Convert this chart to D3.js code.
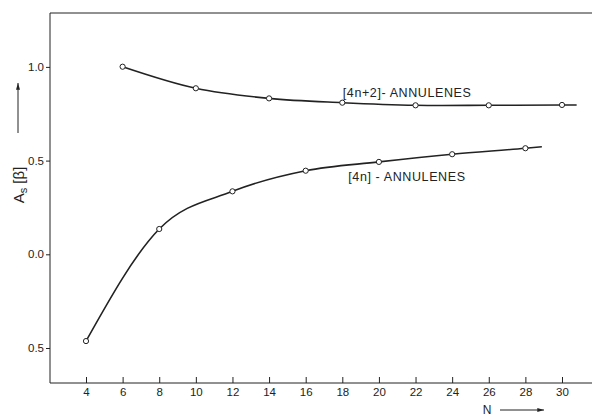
<!DOCTYPE html>
<html><head><meta charset="utf-8">
<script src="https://cdn.jsdelivr.net/npm/d3@7"></script>
<style>body{margin:0;background:#fff}svg{display:block}text{font-family:"Liberation Sans",Arial,sans-serif;fill:#222}</style>
</head><body><svg id="c" width="592" height="416"></svg>
<script>
const nValues4n2 = [6, 10, 14, 18, 22, 26, 30];
const as4n2 = [1.001, 0.886, 0.832, 0.809, 0.795, 0.795, 0.797];
const tail4n2 = [30.8, 0.797];
const nValues4n = [4, 8, 12, 16, 20, 24, 28];
const as4n = [-0.463, 0.135, 0.336, 0.446, 0.493, 0.534, 0.566];
const tail4n = [28.9, 0.574];
const xTicks = [4, 6, 8, 10, 12, 14, 16, 18, 20, 22, 24, 26, 28, 30];
const yTicks = [1.0, 0.5, 0.0, -0.5];
const yTickLabels = ["1.0", "0.5", "0.0", "0.5"];
const seriesLabels = ["[4n+2]- ANNULENES", "[4n] - ANNULENES"];

(function () {
const svg = d3.select("#c");
const ink = "#222";
const pL = 50, pR = 592, pT = 13, pB = 383;
const x = d3.scaleLinear().domain([4, 30]).range([86, 562]);
const y = d3.scaleLinear().domain([0, 1]).range([254.3, 66.9]);

svg.append("line").attr("x1", pL).attr("x2", pR).attr("y1", pT).attr("y2", pT).attr("stroke", ink).attr("stroke-width", 1);

const xAxis = svg.append("g").attr("transform", `translate(0,${pB})`)
  .call(d3.axisBottom(x).tickValues(xTicks).tickSizeInner(-6).tickSizeOuter(0).tickPadding(5));
xAxis.select(".domain").attr("d", `M${pL},0H${pR}`);
const yAxis = svg.append("g").attr("transform", `translate(${pL},0)`)
  .call(d3.axisLeft(y).tickValues(yTicks).tickFormat((d, i) => yTickLabels[i]).tickSize(4).tickSizeOuter(0).tickPadding(2));
yAxis.select(".domain").attr("d", `M0,${pT}V${pB}`);
[xAxis, yAxis].forEach(g => {
  g.selectAll("path,line").attr("stroke", ink).attr("stroke-width", 1);
  g.selectAll("text").attr("fill", ink).style("font-size", "11.5px").attr("font-family", "Liberation Sans, Arial, sans-serif");
});

const s1 = nValues4n2.map((n, i) => [n, as4n2[i]]);
const s2 = nValues4n.map((n, i) => [n, as4n[i]]);
const line1 = d3.line().x(d => x(d[0])).y(d => y(d[1])).curve(d3.curveCatmullRom.alpha(0.5));
const line2 = d3.line().x(d => x(d[0])).y(d => y(d[1])).curve(d3.curveMonotoneX);
[[s1, tail4n2, line1], [s2, tail4n, line2]].forEach(([pts, tail, line]) => {
  svg.append("path").attr("d", line(pts.concat([tail]))).attr("fill", "none").attr("stroke", ink).attr("stroke-width", 1.6);
  svg.selectAll(null).data(pts).join("circle")
    .attr("cx", d => x(d[0])).attr("cy", d => y(d[1])).attr("r", 2.6)
    .attr("fill", "#fff").attr("stroke", ink).attr("stroke-width", 1);
});

svg.append("text").attr("x", x(18) + 0.5).attr("y", y(as4n2[3]) - 6).style("font-size", "12.5px").style("letter-spacing", "0.6px").text(seriesLabels[0]);
svg.append("text").attr("x", x(18) + 6).attr("y", y(as4n[4]) + 19).style("font-size", "12.5px").style("letter-spacing", "0.6px").text(seriesLabels[1]);

const yt = svg.append("text").attr("transform", "translate(24,185) rotate(-90)").attr("text-anchor", "middle").style("font-size", "15px");
yt.append("tspan").text("A");
yt.append("tspan").attr("dy", 3).style("font-size", "11px").text("s");
yt.append("tspan").attr("dy", -3).text(" [β]");
svg.append("defs").append("marker").attr("id", "ar").attr("viewBox", "0 0 10 6").attr("refX", 10).attr("refY", 3)
  .attr("markerWidth", 8).attr("markerHeight", 4).attr("orient", "auto")
  .append("path").attr("d", "M0,0L10,3L0,6Z").attr("fill", ink);
svg.append("line").attr("x1", 18).attr("x2", 18).attr("y1", 133).attr("y2", 83).attr("stroke", ink).attr("stroke-width", 1).attr("marker-end", "url(#ar)");
svg.append("text").attr("x", 487).attr("y", 414).attr("text-anchor", "middle").style("font-size", "12px").text("N");
svg.append("line").attr("x1", 500).attr("x2", 544).attr("y1", 410).attr("y2", 410).attr("stroke", ink).attr("stroke-width", 1).attr("marker-end", "url(#ar)");
})();
</script></body></html>
